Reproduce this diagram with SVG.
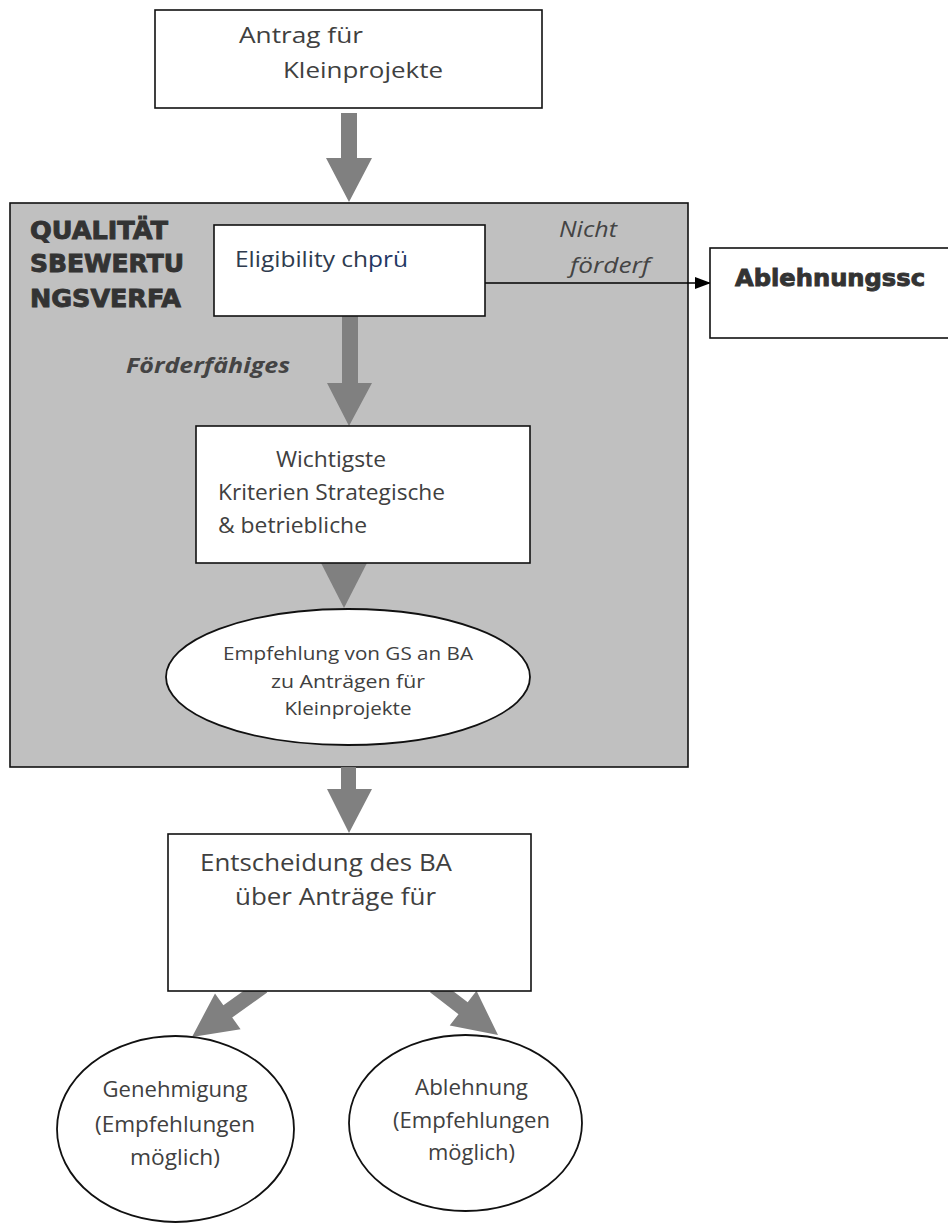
<svg xmlns="http://www.w3.org/2000/svg" width="948" height="1230" viewBox="0 0 948 1230">
<style>
.box{fill:#fff;stroke:#111;stroke-width:1.6}
.panel{fill:#c0c0c0;stroke:#111;stroke-width:1.6}
.arr{fill:#808080;stroke:none}
.t{font-family:"Open Sans","DejaVu Sans",sans-serif;fill:#404040}
.b{font-family:"DejaVu Sans",sans-serif;font-weight:bold;fill:#333;stroke:#333;stroke-width:0.9}
.i{font-family:"Open Sans","DejaVu Sans",sans-serif;font-style:italic;fill:#444}
</style>
<defs>
<marker id="ah" markerWidth="16" markerHeight="12" refX="15" refY="6" orient="auto" markerUnits="userSpaceOnUse">
<path d="M0,0 L16,6 L0,12 Z" fill="#000"/>
</marker>
</defs>
<rect width="948" height="1230" fill="#fff"/>

<g id="panel">
<rect class="panel" x="10" y="203" width="678" height="564"/>
<text class="b" font-size="24" x="30" y="239" textLength="138" lengthAdjust="spacingAndGlyphs">QUALITÄT</text>
<text class="b" font-size="24" x="30" y="272" textLength="154" lengthAdjust="spacingAndGlyphs">SBEWERTU</text>
<text class="b" font-size="24" x="30" y="307" textLength="151" lengthAdjust="spacingAndGlyphs">NGSVERFA</text>
</g>

<g id="connectors">
<polygon class="arr" points="341,113 357,113 357,158 372,158 349,202 326,158 341,158"/>
<polygon class="arr" points="342,316 358,316 358,383 372,383 349,426 327,383 342,383"/>
<polygon class="arr" points="321,563 367,563 344,608"/>
<polygon class="arr" points="341,767 356,767 356,789 372,789 349,833 327,789 341,789"/>
<polygon class="arr" points="258.4,980.3 223.4,1005.3 215,993.5 192,1037 240.6,1029.3 232.2,1017.5 267.2,992.5"/>
<polygon class="arr" points="439.2,980.4 467.7,1002.3 476.5,990.8 498,1035 449.7,1025.6 458.5,1014.2 430,992.2"/>
<line x1="485" y1="283" x2="710" y2="283" stroke="#000" stroke-width="1.6" marker-end="url(#ah)"/>
</g>

<g id="node-antrag">
<rect class="box" x="155" y="10" width="387" height="98"/>
<text class="t" font-size="22" x="239" y="43" textLength="124" lengthAdjust="spacingAndGlyphs">Antrag für</text>
<text class="t" font-size="22" x="283" y="78" textLength="160" lengthAdjust="spacingAndGlyphs">Kleinprojekte</text>
</g>

<g id="node-eligibility">
<rect class="box" x="214" y="225" width="271" height="91"/>
<text font-family="'Open Sans','DejaVu Sans',sans-serif" font-size="22" x="235" y="267" textLength="173" lengthAdjust="spacingAndGlyphs" fill="#2e3b4e">Eligibility ch<tspan fill="#1f3864">prü</tspan></text>
</g>

<g id="label-nicht">
<text class="i" font-size="21" x="559" y="237" textLength="58" lengthAdjust="spacingAndGlyphs">Nicht</text>
<text class="i" font-size="21" x="570" y="273" textLength="80" lengthAdjust="spacingAndGlyphs">förderf</text>
</g>

<g id="node-ablehnungssc">
<rect class="box" x="710" y="248" width="250" height="90"/>
<text class="b" font-size="23" x="735" y="286" textLength="190" lengthAdjust="spacingAndGlyphs">Ablehnungssc</text>
</g>

<g id="label-foerderfaehiges">
<text class="i" font-weight="bold" font-size="22" x="126" y="373" textLength="164" lengthAdjust="spacingAndGlyphs">Förderfähiges</text>
</g>

<g id="node-kriterien">
<rect class="box" x="196" y="426" width="334" height="137"/>
<text class="t" font-size="21" x="276" y="467" textLength="110" lengthAdjust="spacingAndGlyphs">Wichtigste</text>
<text class="t" font-size="21" x="218" y="500" textLength="227" lengthAdjust="spacingAndGlyphs">Kriterien Strategische</text>
<text class="t" font-size="21" x="218" y="533" textLength="149" lengthAdjust="spacingAndGlyphs">&amp; betriebliche</text>
</g>

<g id="node-empfehlung">
<ellipse cx="348" cy="677" rx="182" ry="68" fill="#fff" stroke="#111" stroke-width="1.8"/>
<text class="t" font-size="18.5" x="348" y="660" text-anchor="middle" textLength="250" lengthAdjust="spacingAndGlyphs">Empfehlung von GS an BA</text>
<text class="t" font-size="18.5" x="348" y="688" text-anchor="middle" textLength="154" lengthAdjust="spacingAndGlyphs">zu Anträgen für</text>
<text class="t" font-size="18.5" x="348" y="715" text-anchor="middle" textLength="127" lengthAdjust="spacingAndGlyphs">Kleinprojekte</text>
</g>

<g id="node-entscheidung">
<rect class="box" x="168" y="834" width="363" height="157"/>
<text class="t" font-size="23" x="200" y="871" textLength="252" lengthAdjust="spacingAndGlyphs">Entscheidung des BA</text>
<text class="t" font-size="23" x="235" y="905" textLength="201" lengthAdjust="spacingAndGlyphs">über Anträge für</text>
</g>

<g id="node-genehmigung">
<ellipse cx="175.5" cy="1129" rx="118.5" ry="93" fill="#fff" stroke="#111" stroke-width="1.8"/>
<text class="t" font-size="22.5" x="175" y="1097" text-anchor="middle" textLength="145" lengthAdjust="spacingAndGlyphs">Genehmigung</text>
<text class="t" font-size="22.5" x="175" y="1132" text-anchor="middle" textLength="160" lengthAdjust="spacingAndGlyphs">(Empfehlungen</text>
<text class="t" font-size="22.5" x="175" y="1165" text-anchor="middle" textLength="90" lengthAdjust="spacingAndGlyphs">möglich)</text>
</g>

<g id="node-ablehnung">
<ellipse cx="465.5" cy="1123" rx="116.5" ry="88" fill="#fff" stroke="#111" stroke-width="1.8"/>
<text class="t" font-size="22.5" x="471.5" y="1095" text-anchor="middle" textLength="113" lengthAdjust="spacingAndGlyphs">Ablehnung</text>
<text class="t" font-size="22.5" x="471.5" y="1128" text-anchor="middle" textLength="157" lengthAdjust="spacingAndGlyphs">(Empfehlungen</text>
<text class="t" font-size="22.5" x="471.5" y="1160" text-anchor="middle" textLength="87" lengthAdjust="spacingAndGlyphs">möglich)</text>
</g>
</svg>
